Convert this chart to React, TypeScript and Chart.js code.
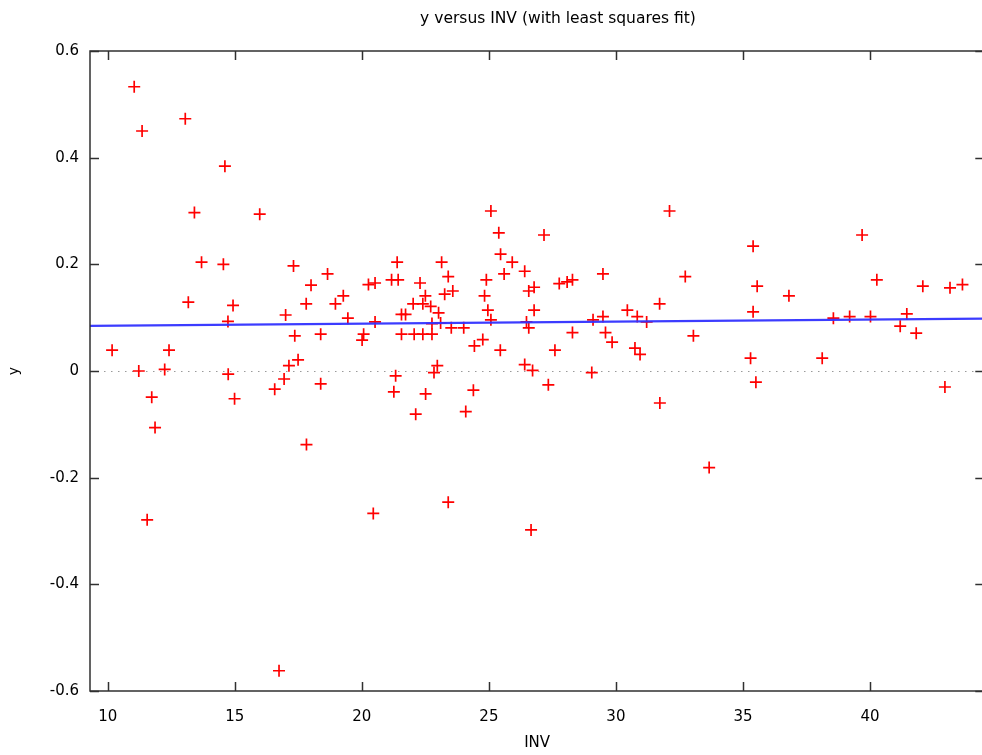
import React, { useEffect, useRef } from "react";
import { Chart, registerables } from "chart.js";

Chart.register(...registerables);

// INV (x) values
const INV = [
  11.04, 11.35, 13.05, 14.61, 13.41, 15.98, 13.69, 14.55, 17.31, 18.0,
  13.17, 14.93, 17.81, 17.0, 14.73, 17.36, 10.17, 12.41, 18.38, 17.49,
  17.13, 11.22, 12.24, 14.74, 11.73, 14.99, 16.57, 16.94, 11.86, 17.82,
  11.55, 16.74, 18.38, 18.65, 18.96, 19.27, 19.45, 20.07, 20.01, 20.26,
  20.52, 20.52, 21.17, 21.43, 21.39, 21.56, 21.72, 21.56, 22.06, 22.4,
  22.76, 22.02, 22.4, 22.29, 22.5, 22.71, 23.02, 22.76, 23.1, 23.14,
  23.4, 23.26, 23.58, 23.52, 24.01, 24.43, 24.76, 25.45, 24.9, 24.83,
  24.96, 25.08, 25.08, 25.39, 25.46, 25.6, 25.92, 26.41, 26.57, 26.78,
  26.78, 26.48, 26.57, 26.41, 26.72, 22.97, 22.84, 21.33, 21.26, 22.51,
  22.12, 24.09, 24.39, 20.45, 23.4, 26.66, 27.17, 27.77, 28.08, 28.29,
  29.49, 29.49, 29.1, 28.29, 29.59, 29.85, 27.6, 29.05, 27.34, 30.45,
  30.84, 31.21, 30.75, 30.95, 31.72, 32.11, 32.73, 33.05, 35.4, 35.4,
  35.3, 31.73, 33.67, 35.51, 35.56, 36.81, 38.12, 38.56, 39.2, 39.69,
  40.02, 40.27, 41.19, 41.45, 41.82, 42.08, 42.95, 43.15, 43.64,
];

// y values
const Y = [
  0.533, 0.45, 0.473, 0.384, 0.297, 0.294, 0.204, 0.2, 0.197, 0.161,
  0.129, 0.123, 0.126, 0.105, 0.093, 0.066, 0.039, 0.039, 0.069, 0.021,
  0.01, 0.0, 0.003, -0.006, -0.049, -0.052, -0.034, -0.015, -0.106, -0.138,
  -0.279, -0.562, -0.024, 0.182, 0.126, 0.141, 0.099, 0.069, 0.058, 0.162,
  0.165, 0.092, 0.171, 0.171, 0.204, 0.106, 0.106, 0.069, 0.069, 0.069,
  0.069, 0.126, 0.126, 0.165, 0.141, 0.121, 0.109, 0.089, 0.09, 0.204,
  0.177, 0.144, 0.15, 0.081, 0.081, 0.047, 0.059, 0.039, 0.171, 0.141,
  0.114, 0.096, 0.3, 0.259, 0.219, 0.182, 0.204, 0.187, 0.15, 0.157,
  0.114, 0.092, 0.081, 0.012, 0.001, 0.01, -0.003, -0.009, -0.039, -0.043,
  -0.081, -0.076, -0.036, -0.267, -0.246, -0.298, 0.255, 0.164, 0.167, 0.171,
  0.182, 0.102, 0.096, 0.072, 0.072, 0.054, 0.039, -0.003, -0.026, 0.114,
  0.102, 0.092, 0.043, 0.031, 0.126, 0.3, 0.177, 0.066, 0.234, 0.111,
  0.024, -0.06, -0.181, -0.021, 0.159, 0.141, 0.024, 0.099, 0.102, 0.255,
  0.102, 0.171, 0.084, 0.107, 0.071, 0.159, -0.03, 0.156, 0.162,
];

const X_TICKS = [10, 15, 20, 25, 30, 35, 40];
const Y_TICKS = [-0.6, -0.4, -0.2, 0, 0.2, 0.4, 0.6];
const X_MIN = 9.3;
const X_MAX = 44.5;
const Y_MIN = -0.6;
const Y_MAX = 0.6;

// least squares fit line
const FIT_INTERCEPT = 0.0808;
const FIT_SLOPE = 0.00039;

const TITLE = "y versus INV (with least squares fit)";
const X_LABEL = "INV";
const Y_LABEL = "y";

const FONT = "'DejaVu Sans', Verdana, sans-serif";

const framePlugin = {
  id: "gpFrame",
  beforeDatasetsDraw(chart: any) {
    const { ctx, chartArea, scales } = chart;
    const py = scales.y.getPixelForValue(0);
    ctx.save();
    ctx.strokeStyle = "#9a9a9a";
    ctx.lineWidth = 1;
    ctx.setLineDash([1.5, 5.5]);
    ctx.beginPath();
    ctx.moveTo(chartArea.left, Math.round(py) + 0.5);
    ctx.lineTo(chartArea.right, Math.round(py) + 0.5);
    ctx.stroke();
    ctx.restore();
  },
  afterDraw(chart: any) {
    const { ctx, chartArea, scales } = chart;
    const { left, right, top, bottom } = chartArea;
    const L = 9;
    ctx.save();
    ctx.strokeStyle = "#303030";
    ctx.lineWidth = 1.5;
    ctx.beginPath();
    ctx.moveTo(left, top);
    ctx.lineTo(right, top);
    ctx.lineTo(right, bottom);
    ctx.lineTo(left, bottom);
    ctx.closePath();
    ctx.stroke();
    ctx.beginPath();
    X_TICKS.forEach((v) => {
      const px = Math.round(scales.x.getPixelForValue(v)) + 0.5;
      ctx.moveTo(px, bottom);
      ctx.lineTo(px, bottom - L);
      ctx.moveTo(px, top);
      ctx.lineTo(px, top + L);
    });
    Y_TICKS.forEach((v) => {
      const py = Math.round(scales.y.getPixelForValue(v)) + 0.5;
      ctx.moveTo(left, py);
      ctx.lineTo(left + L, py);
      ctx.moveTo(right, py);
      ctx.lineTo(right - L, py);
    });
    ctx.stroke();
    // chart title
    ctx.fillStyle = "#000";
    ctx.font = "15.5px " + FONT;
    ctx.textAlign = "center";
    ctx.textBaseline = "middle";
    ctx.fillText(TITLE, 558, 19);
    ctx.restore();
  },
};

export default function App() {
  const ref = useRef<HTMLCanvasElement | null>(null);

  useEffect(() => {
    document.body.style.margin = "0";
    const canvas = ref.current;
    if (!canvas) return;
    const points = INV.map((x, i) => ({ x, y: Y[i] }));
    const fit = [X_MIN, X_MAX].map((x) => ({ x, y: FIT_INTERCEPT + FIT_SLOPE * x }));

    const chart = new Chart(canvas, {
      type: "scatter",
      data: {
        datasets: [
          {
            type: "line",
            label: "fit",
            data: fit,
            borderColor: "rgba(50,50,255,0.95)",
            borderWidth: 2.2,
            pointRadius: 0,
            fill: false,
            order: 0,
          } as any,
          {
            label: "y",
            data: points,
            pointStyle: "cross",
            pointRadius: 6,
            pointHoverRadius: 6,
            borderColor: "#ff0000",
            backgroundColor: "#ff0000",
            pointBorderWidth: 1.7,
            borderWidth: 1.7,
            order: 1,
          } as any,
        ],
      },
      plugins: [framePlugin],
      options: {
        animation: false,
        responsive: true,
        maintainAspectRatio: false,
        layout: { padding: { top: 51, left: 0, right: 2, bottom: 0 } },
        plugins: {
          legend: { display: false },
          tooltip: { enabled: false },
          title: { display: false },
        },
        scales: {
          x: {
            type: "linear",
            min: X_MIN,
            max: X_MAX,
            afterFit: (s: any) => {
              s.height = 64;
            },
            afterBuildTicks: (s: any) => {
              s.ticks = X_TICKS.map((v) => ({ value: v }));
            },
            ticks: {
              color: "#000",
              font: { family: FONT, size: 15 },
              padding: 17,
              maxRotation: 0,
              autoSkip: false,
              callback: (v: any) => String(v),
            },
            grid: { display: false, drawTicks: false },
            border: { display: false },
            title: {
              display: true,
              text: X_LABEL,
              color: "#000",
              font: { family: FONT, size: 15 },
              padding: { top: 0, bottom: 3 },
            },
          },
          y: {
            type: "linear",
            min: Y_MIN,
            max: Y_MAX,
            afterFit: (s: any) => {
              s.width = 90;
            },
            afterBuildTicks: (s: any) => {
              s.ticks = Y_TICKS.map((v) => ({ value: v }));
            },
            ticks: {
              color: "#000",
              font: { family: FONT, size: 15 },
              padding: 11,
              autoSkip: false,
              callback: (v: any) => String(Number(Number(v).toFixed(1))),
            },
            grid: { display: false, drawTicks: false },
            border: { display: false },
            title: {
              display: true,
              text: Y_LABEL,
              color: "#000",
              font: { family: FONT, size: 14 },
              padding: { top: 6, bottom: 0 },
            },
          },
        },
      },
    });
    return () => chart.destroy();
  }, []);

  return (
    <div style={{ position: "relative", width: 982, height: 755, overflow: "hidden", background: "#fff" }}>
      <div style={{ position: "absolute", left: 0, top: 0, width: 992, height: 755 }}>
        <canvas ref={ref} />
      </div>
    </div>
  );
}
